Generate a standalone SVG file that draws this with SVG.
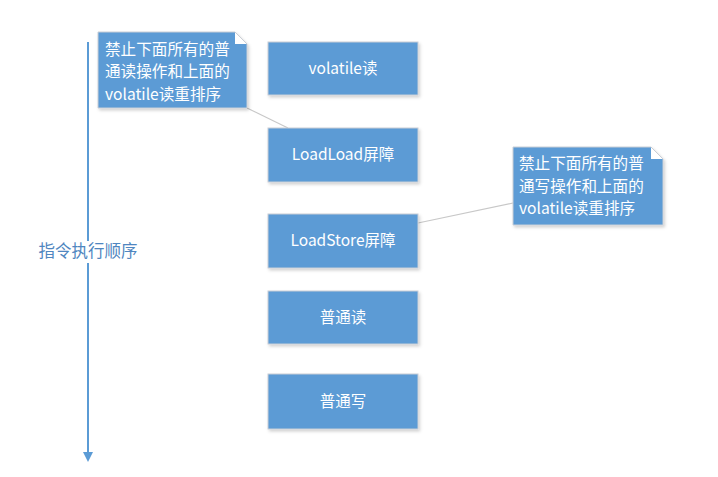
<svg xmlns="http://www.w3.org/2000/svg" width="718" height="477" viewBox="0 0 718 477">
<defs>
<style>
.box{fill:#5b9bd5;stroke:#c9ced6;stroke-width:1}
.note{fill:#5b9bd5;stroke:#c9ced6;stroke-width:1}
.lbl{font-family:"Noto Sans CJK SC","Liberation Sans",sans-serif;font-size:15.5px;fill:#ffffff;text-anchor:middle}
.ntxt{font-family:"Noto Sans CJK SC","Liberation Sans",sans-serif;font-size:15.6px;fill:#ffffff}
.link{stroke:#c8c8c8;stroke-width:1.2;fill:none}
.axis{stroke:#5b9bd5;stroke-width:2;fill:none}
.axlbl{font-family:"Noto Sans CJK SC","Liberation Sans",sans-serif;font-size:16.5px;fill:#4f86c0;text-anchor:middle}
</style>
<filter id="sh" x="-10%" y="-10%" width="130%" height="130%">
<feDropShadow dx="1.5" dy="2" stdDeviation="1.5" flood-color="#000" flood-opacity="0.18"/>
</filter>
</defs>
<rect width="718" height="477" fill="#ffffff"/>
<g id="connectors">
<line class="axis" x1="88" y1="42" x2="88" y2="452"/>
<path d="M83,452 L93,452 L88,462 Z" fill="#5b9bd5"/>
<line class="link" x1="247" y1="108" x2="288" y2="128"/>
<line class="link" x1="418" y1="223" x2="513" y2="203"/>
</g>
<g id="axis-label">
<rect x="34" y="241" width="108" height="22" fill="#ffffff"/>
<text class="axlbl" x="88" y="257">指令执行顺序</text>
</g>
<g id="note1">
<path class="note" filter="url(#sh)" d="M98,32 L235,32 L247,44 L247,108 L98,108 Z"/>
<path d="M235,32 L247,44 L235,44 Z" fill="#ffffff"/>
<path d="M235,32 L247,44" stroke="#c9ced6" fill="none"/>
<text class="ntxt" x="105" y="54.5"><tspan x="105" y="54.5">禁止下面所有的普</tspan><tspan x="105" y="77">通读操作和上面的</tspan><tspan x="105" y="99.5">volatile读重排序</tspan></text>
</g>
<g id="note2">
<path class="note" filter="url(#sh)" d="M513,147 L651,147 L663,159 L663,225 L513,225 Z"/>
<path d="M651,147 L663,159 L651,159 Z" fill="#ffffff"/>
<path d="M651,147 L663,159" stroke="#c9ced6" fill="none"/>
<text class="ntxt" x="519" y="169"><tspan x="519" y="169">禁止下面所有的普</tspan><tspan x="519" y="191.5">通写操作和上面的</tspan><tspan x="519" y="214">volatile读重排序</tspan></text>
</g>
<g id="n-volatile-read">
<rect class="box" filter="url(#sh)" x="268" y="42" width="150" height="53"/>
<text class="lbl" x="343" y="74">volatile读</text>
</g>
<g id="n-loadload">
<rect class="box" filter="url(#sh)" x="268" y="128" width="150" height="54"/>
<text class="lbl" x="343" y="160">LoadLoad屏障</text>
</g>
<g id="n-loadstore">
<rect class="box" filter="url(#sh)" x="268" y="214" width="150" height="54"/>
<text class="lbl" x="343" y="246">LoadStore屏障</text>
</g>
<g id="n-normal-read">
<rect class="box" filter="url(#sh)" x="268" y="291" width="150" height="53"/>
<text class="lbl" x="343" y="323">普通读</text>
</g>
<g id="n-normal-write">
<rect class="box" filter="url(#sh)" x="268" y="374" width="150" height="55"/>
<text class="lbl" x="343" y="407">普通写</text>
</g>
</svg>
